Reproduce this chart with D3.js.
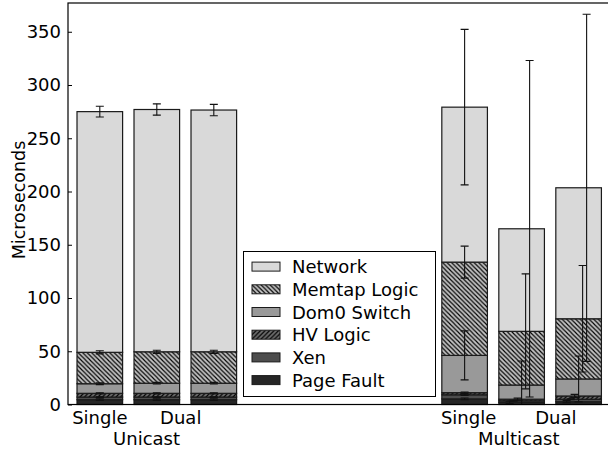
<!DOCTYPE html>
<html>
<head>
<meta charset="utf-8">
<script src="https://cdn.jsdelivr.net/npm/d3@7"></script>
<style>
  body { margin: 0; background: #fff; }
  text { font-family: "DejaVu Sans", sans-serif; fill: #000; }
</style>
</head>
<body>
<script>
// stack layers, bottom to top
var layers = ["Page Fault", "Xen", "HV Logic", "Dom0 Switch", "Memtap Logic", "Network"];

// bar slots on the x axis (bar left edge, in bar units)
var barPos = [0, 1, 2, 6.4, 7.4, 8.4];
var tickPos = [0.4, 1.82, 6.87, 8.4];
var tickLabels = ["Single", "Dual", "Single", "Dual"];
var groupPos = [1.22, 7.75];
var groupLabels = ["Unicast", "Multicast"];
var yTicks = [0, 50, 100, 150, 200, 250, 300, 350];

// segment heights (microseconds), one value per bar
var pageFault = [4.5, 4.5, 4.5, 5.3, 2.0, 2.6];
var xen       = [2.5, 2.5, 2.5, 3.8, 1.5, 2.3];
var hvLogic   = [3.5, 3.5, 3.5, 2.0, 1.5, 3.1];
var dom0      = [9.0, 9.5, 9.5, 35.0, 13.3, 16.0];
var memtap    = [29.5, 29.5, 29.5, 87.6, 50.4, 56.5];
var network   = [226, 227.5, 227, 145.5, 96.3, 123];

// error bar half widths, one value per bar
var errPageFault = [0.8, 0.8, 0.8, 0.8, 1.0, 1.0];
var errXen       = [0.3, 0.3, 0.3, 0.5, 0.5, 0.5];
var errHv        = [0.5, 0.5, 0.5, 0.7, 1.0, 1.5];
var errDom0      = [0.8, 0.8, 0.8, 23, 22.5, 21.5];
var errMemtap    = [1.5, 1.5, 1.5, 15, 54, 50];
var errNetwork   = [5, 5.3, 5.3, 73, 158, 163];

var values = [pageFault, xen, hvLogic, dom0, memtap, network];
var errors = [errPageFault, errXen, errHv, errDom0, errMemtap, errNetwork];

var fills = ["#262626", "#4d4d4d", "url(#hatchHv)", "#999999", "url(#hatchMemtap)", "#d9d9d9"];

var W = 608, H = 454;
var pLeft = 68, pTop = 3, pRight = 609, pBottom = 404.5;
var barW = 0.8;

var svg = d3.select("body").append("svg")
    .attr("width", W)
    .attr("height", H);

// hatch patterns
var defs = svg.append("defs");
function hatch(id, bg, forward) {
    var s = 4.5;
    var p = defs.append("pattern")
        .attr("id", id)
        .attr("patternUnits", "userSpaceOnUse")
        .attr("width", s).attr("height", s);
    p.append("rect").attr("width", s).attr("height", s).attr("fill", bg);
    var d = forward
        ? "M-1," + (s + 1) + "L" + (s + 1) + ",-1M-1,1L1,-1M" + (s - 1) + "," + (s + 1) + "L" + (s + 1) + "," + (s - 1)
        : "M-1,-1L" + (s + 1) + "," + (s + 1) + "M" + (s - 1) + ",-1L" + (s + 1) + ",1M-1," + (s - 1) + "L1," + (s + 1);
    p.append("path").attr("d", d).attr("stroke", "#000").attr("stroke-width", 1.15);
}
hatch("hatchMemtap", "#c2c2c2", false);
hatch("hatchHv", "#6c6c6c", true);

var x = d3.scaleLinear().domain([-0.158, 9.333]).range([pLeft, pRight]);
var y = d3.scaleLinear().domain([0, 377]).range([pBottom, pTop]);

// stacked data
var bars = barPos.map(function (p, i) {
    var base = 0;
    return layers.map(function (name, j) {
        var v = values[j][i];
        var seg = { bar: i, layer: j, y0: base, y1: base + v, err: errors[j][i], pos: p };
        base += v;
        return seg;
    });
});
var segs = [].concat.apply([], bars);

// bars
svg.append("g").selectAll("rect")
    .data(segs)
    .enter().append("rect")
    .attr("x", function (d) { return x(d.pos); })
    .attr("width", function (d) { return x(d.pos + barW) - x(d.pos); })
    .attr("y", function (d) { return y(d.y1); })
    .attr("height", function (d) { return y(d.y0) - y(d.y1); })
    .attr("fill", function (d) { return fills[d.layer]; })
    .attr("stroke", "#1a1a1a")
    .attr("stroke-width", 1.2);

// the two right multicast bars have their error bars staggered per layer
function errOffset(d) {
    return d.bar >= 4 ? (d.layer - 3) * 4 : 0;
}

defs.append("clipPath").attr("id", "plotClip")
    .append("rect").attr("x", pLeft).attr("y", pTop)
    .attr("width", pRight - pLeft).attr("height", pBottom - pTop);

var eg = svg.append("g")
    .attr("stroke", "#111")
    .attr("stroke-width", 1.1)
    .attr("clip-path", "url(#plotClip)");

segs.forEach(function (d) {
    var cx = x(d.pos + barW / 2) + errOffset(d);
    var yh = y(d.y1 + d.err), yl = y(d.y1 - d.err);
    eg.append("line").attr("x1", cx).attr("x2", cx).attr("y1", yh).attr("y2", yl);
    eg.append("line").attr("x1", cx - 4).attr("x2", cx + 4).attr("y1", yh).attr("y2", yh);
    eg.append("line").attr("x1", cx - 4).attr("x2", cx + 4).attr("y1", yl).attr("y2", yl);
});

// frame
svg.append("rect")
    .attr("x", pLeft).attr("y", pTop)
    .attr("width", pRight - pLeft).attr("height", pBottom - pTop)
    .attr("fill", "none")
    .attr("stroke", "#000")
    .attr("stroke-width", 1.2);

// y axis, ticks inward
var yAxis = d3.axisLeft(y).tickValues(yTicks).tickSize(-4).tickPadding(7).tickFormat(d3.format("d"));
var gY = svg.append("g")
    .attr("transform", "translate(" + pLeft + ",0)")
    .call(yAxis);
gY.select(".domain").remove();
gY.selectAll("text").attr("font-size", 18).attr("font-family", "DejaVu Sans");
gY.selectAll("line").attr("stroke", "#000");

svg.append("text")
    .attr("transform", "translate(25,200) rotate(-90)")
    .attr("text-anchor", "middle")
    .attr("font-size", 17.5)
    .text("Microseconds");

// x tick labels
svg.append("g").selectAll("text")
    .data(tickLabels)
    .enter().append("text")
    .attr("x", function (d, i) { return x(tickPos[i]); })
    .attr("y", 423.5)
    .attr("text-anchor", "middle")
    .attr("font-size", 18)
    .text(function (d) { return d; });

svg.append("g").selectAll("text")
    .data(groupLabels)
    .enter().append("text")
    .attr("x", function (d, i) { return x(groupPos[i]); })
    .attr("y", 445)
    .attr("text-anchor", "middle")
    .attr("font-size", 18)
    .text(function (d) { return d; });

// legend
var lg = svg.append("g");
lg.append("rect")
    .attr("x", 243.5).attr("y", 251.5)
    .attr("width", 192).attr("height", 145)
    .attr("fill", "#fff")
    .attr("stroke", "#000")
    .attr("stroke-width", 1);

var legendItems = layers.map(function (n, j) { return j; }).reverse();
var rows = lg.selectAll("g.row")
    .data(legendItems)
    .enter().append("g")
    .attr("class", "row")
    .attr("transform", function (d, i) { return "translate(252," + (266.6 + i * 22.7) + ")"; });
rows.append("rect")
    .attr("x", 0).attr("y", -4.5)
    .attr("width", 28).attr("height", 9)
    .attr("fill", function (d) { return fills[d]; })
    .attr("stroke", "#1a1a1a")
    .attr("stroke-width", 1);
rows.append("text")
    .attr("x", 40).attr("y", 6.5)
    .attr("font-size", 18)
    .text(function (d) { return layers[d]; });
</script>
</body>
</html>
